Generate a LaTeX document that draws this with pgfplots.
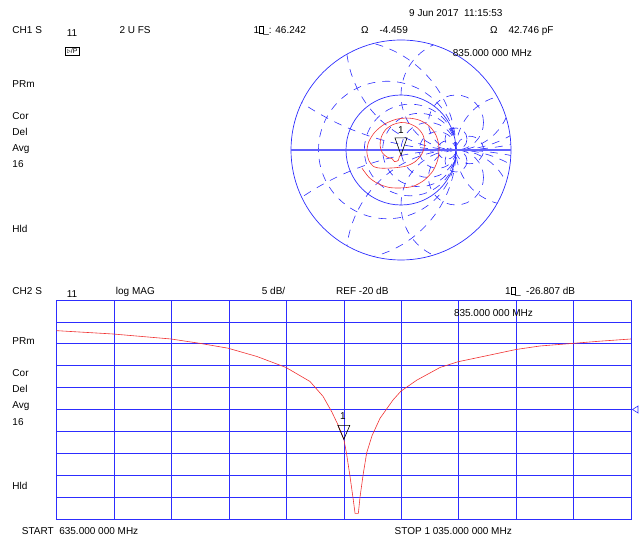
\documentclass[border=0pt]{standalone}
\usepackage{fontspec}
\setmainfont{Liberation Sans}
\usepackage{pgfplots}
\pgfplotsset{compat=1.18}
\definecolor{hpblue}{RGB}{45,45,255}
\definecolor{hpred}{RGB}{240,50,50}
\pgfdeclareplotmark{mkr}{\pgfpathmoveto{\pgfpoint{0pt}{0pt}}\pgfpathlineto{\pgfpoint{-6pt}{14pt}}\pgfpathlineto{\pgfpoint{6pt}{14pt}}\pgfpathclose\pgfusepathqstroke}
\pgfdeclareplotmark{mkrs}{\pgfpathmoveto{\pgfpoint{0pt}{0pt}}\pgfpathlineto{\pgfpoint{-6pt}{17pt}}\pgfpathlineto{\pgfpoint{6pt}{17pt}}\pgfpathclose\pgfusepathqstroke}
\pgfdeclareplotmark{reftri}{\pgfpathmoveto{\pgfpoint{1.5pt}{0pt}}\pgfpathlineto{\pgfpoint{7pt}{3.5pt}}\pgfpathlineto{\pgfpoint{7pt}{-3.5pt}}\pgfpathclose\pgfusepathqstroke}
\newcommand{\T}[3]{\node[anchor=base west,inner sep=0pt] at (#1pt,538pt-#2pt) {#3};}
\newcommand{\tofu}{{\fboxsep=0pt\fboxrule=0.4pt\fbox{\rule{0pt}{7pt}\hspace{3.5pt}}}}
\begin{document}
\begin{tikzpicture}[font=\fontsize{10}{12}\selectfont]
\path[use as bounding box] (0,0) rectangle (639pt,538pt);
% ---------- Smith chart (2 U FS) ----------
\begin{axis}[at={(401pt,388pt)}, anchor=center, width=220pt, height=220pt,
  scale only axis, xmin=-2, xmax=2, ymin=-2, ymax=2, hide axis, clip=false]
\begin{scope}
\clip (axis cs:0,0) circle[radius=2];
\begin{scope}[hpblue, line width=0.6pt, dash pattern=on 8pt off 7pt]
% resistance circles
\draw (axis cs:0.1667,0) circle[radius=0.8333];
\draw (axis cs:0.3333,0) circle[radius=0.6667];
\draw (axis cs:0.5,0) circle[radius=0.5];
\draw (axis cs:0.6667,0) circle[radius=0.3333];
\draw (axis cs:0.8333,0) circle[radius=0.1667];
\draw (axis cs:-0.25,0) circle[radius=1.25];
\draw (axis cs:-1,0) circle[radius=2];
\draw (axis cs:2,0) circle[radius=1];
\draw (axis cs:1.25,0) circle[radius=0.25];
% reactance circles
\draw (axis cs:1,5) circle[radius=5];
\draw (axis cs:1,-5) circle[radius=5];
\draw (axis cs:1,2) circle[radius=2];
\draw (axis cs:1,-2) circle[radius=2];
\draw (axis cs:1,1) circle[radius=1];
\draw (axis cs:1,-1) circle[radius=1];
\draw (axis cs:1,0.5) circle[radius=0.5];
\draw (axis cs:1,-0.5) circle[radius=0.5];
\draw (axis cs:1,0.2) circle[radius=0.2];
\draw (axis cs:1,-0.2) circle[radius=0.2];
\end{scope}
\end{scope}
\draw[hpblue, line width=0.7pt] (axis cs:0,0) circle[radius=2];
\draw[hpblue, line width=0.7pt] (axis cs:0,0) circle[radius=1];
\draw[hpblue!75, line width=1.3pt] (axis cs:-2,0) -- (axis cs:2,0);
\addplot[hpred, smooth, tension=0.5, line width=0.6pt] coordinates {
(-0.71,-0.33) (-0.58,-0.50) (-0.42,-0.61) (-0.22,-0.68) (0.0,-0.69) (0.22,-0.66)
(0.42,-0.55) (0.58,-0.38) (0.67,-0.17) (0.69,0.05) (0.64,0.26) (0.52,0.43)
(0.34,0.54) (0.14,0.58) (-0.08,0.56) (-0.30,0.47) (-0.48,0.32) (-0.59,0.14)
(-0.62,-0.04) (-0.58,-0.20) (-0.50,-0.30) (-0.38,-0.33) (-0.25,-0.33) (-0.08,-0.32)
(0.10,-0.29) (0.26,-0.21) (0.38,-0.07) (0.43,0.10) (0.40,0.27) (0.30,0.40)
(0.15,0.48) (0.0,0.50) (-0.15,0.46) (-0.28,0.37) (-0.36,0.23) (-0.38,0.08)
(-0.34,-0.05) (-0.25,-0.13) (-0.16,-0.16) (-0.12,-0.21) (-0.05,-0.19) (-0.03,-0.12) (0.0,-0.09)};
\addplot[only marks, mark=mkrs, mark options={black, line width=0.6pt}] coordinates {(0.0,-0.09)};
\end{axis}
% ---------- log MAG ----------
\begin{axis}[at={(56.7pt,19pt)}, anchor=south west, width=574.3pt, height=219pt,
  scale only axis, xmin=635, xmax=1035, ymin=-45, ymax=5,
  xtick={635,675,...,1035}, ytick={-45,-40,...,5},
  xticklabels={}, yticklabels={}, major tick length=0pt,
  grid=major, major grid style={hpblue, line width=0.7pt},
  axis line style={hpblue, line width=0.8pt}, clip=false]
\addplot[hpred, line width=0.6pt] coordinates {
(635,-2.0) (674.2,-2.76) (714.6,-3.9) (734.8,-4.9) (754.3,-6.0) (774.5,-7.9)
(794.7,-10.4) (811.4,-13.6) (820.5,-17.0) (826.7,-20.6) (830.9,-23.5) (835,-26.8)
(836.8,-29.9) (839.3,-35.3) (841.6,-40.7) (842.8,-43.7) (845.1,-43.7) (846.3,-39.9)
(848.6,-34.5) (850.9,-29.9) (854.6,-26.0) (860.2,-22.0) (869.3,-17.8) (874.8,-15.8)
(885.8,-13.3) (902.0,-10.4) (914.5,-9.1) (931.9,-7.9) (954.9,-6.3) (971.6,-5.5)
(994.6,-4.9) (1013.4,-4.4) (1035,-3.9)};
\addplot[only marks, mark=mkr, mark options={black, line width=0.6pt}] coordinates {(835,-26.807)};
\addplot[only marks, mark=reftri, mark options={hpblue, line width=0.6pt}] coordinates {(1035,-20)};
\end{axis}
% ---------- texts ----------
\T{409}{16.5}{9 Jun 2017\ \ 11:15:53}
\T{12.3}{33.5}{CH1 S}
\T{66.7}{36.5}{11}
\T{119.3}{33.5}{2 U FS}
\T{253.3}{33.5}{1\tofu\_: 46.242}
\T{361}{33.5}{Ω}
\T{379.3}{33.5}{-4.459}
\T{490}{33.5}{Ω}
\T{508.3}{33.5}{42.746 pF}
\node[anchor=south west, draw, inner sep=0.6pt, minimum width=14pt, minimum height=8pt, line width=0.5pt, font=\fontsize{7}{7}\selectfont] at (65pt,538pt-55.5pt) {$\triangleright$/P};
\T{452.7}{56.5}{835.000 000 MHz}
\T{12.3}{87.3}{PRm}
\T{12.3}{120}{Cor}
\T{12.3}{136}{Del}
\T{12.3}{152}{Avg}
\T{12.3}{168}{16}
\T{12.3}{232.7}{Hld}
\T{398}{134}{1}
\T{12.3}{294.5}{CH2 S}
\T{66.7}{297.5}{11}
\T{115.7}{294.5}{log MAG}
\T{261.7}{294.5}{5 dB/}
\T{336}{294.5}{REF -20 dB}
\T{505}{294.5}{1\tofu\_\ \ -26.807 dB}
\T{453.8}{316.5}{835.000 000 MHz}
\T{12.3}{344.3}{PRm}
\T{12.3}{377}{Cor}
\T{12.3}{393}{Del}
\T{12.3}{409}{Avg}
\T{12.3}{425}{16}
\T{12.3}{489.7}{Hld}
\T{340}{419.5}{1}
\T{21.7}{534}{START\ \ 635.000 000 MHz}
\T{394.5}{534}{STOP 1 035.000 000 MHz}
\end{tikzpicture}
\end{document}
